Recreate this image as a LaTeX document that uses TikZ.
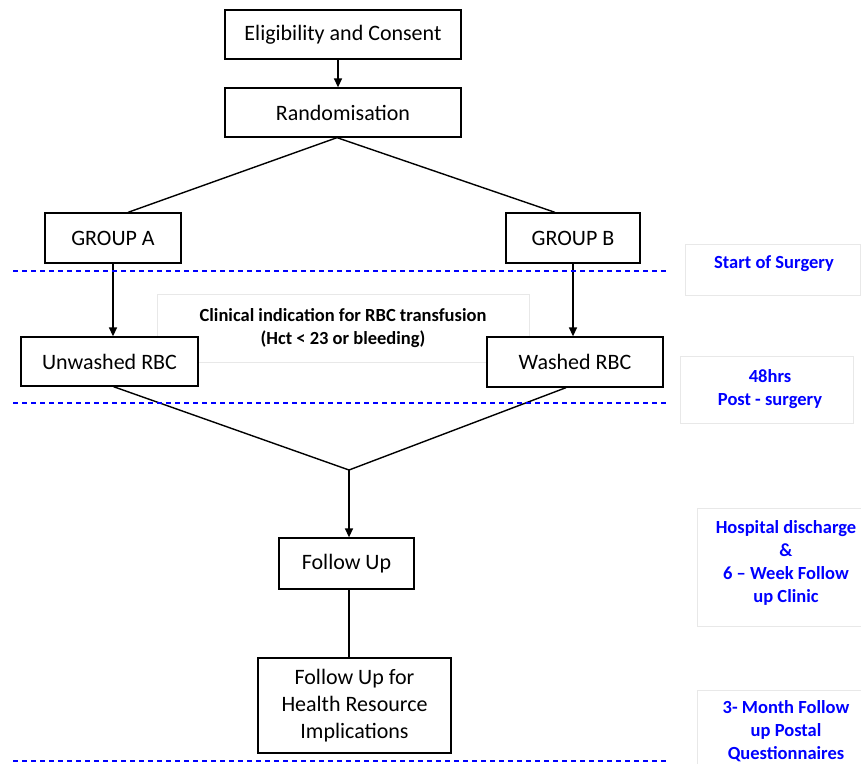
\documentclass[tikz,border=0pt]{standalone}
\usepackage{fontspec}
\setmainfont{Carlito}
\usetikzlibrary{arrows.meta, positioning}

\begin{document}
\begin{tikzpicture}[x=1pt, y=-1pt, >={Triangle[length=9pt,width=8pt]},
    flowbox/.style={draw, line width=1.3pt, fill=white, inner sep=0pt, align=center, font=\fontsize{22}{27}\selectfont},
    flow/.style={line width=1.4pt},
    phase/.style={blue, dash pattern=on 5pt off 4pt, line width=1.1pt},
    frame/.style={draw=black!9, line width=0.8pt},
    phaselabel/.style={blue, align=center, font=\bfseries\fontsize{18.5}{23}\selectfont}]
    \clip (0,0) rectangle (861,763);
    \node[frame, minimum width=372pt, minimum height=68pt, font=\bfseries\fontsize{18.5}{23}\selectfont, align=center] (clin) at (343,328) {Clinical indication for RBC transfusion\\(Hct < 23 or bleeding)};
    \node[flowbox, minimum width=236pt, minimum height=49pt] (elig) at (343,34.5) {Eligibility and Consent};
    \node[flowbox, minimum width=236pt, minimum height=49pt] (rand) at (343,112.5) {Randomisation};
    \node[flowbox, minimum width=136pt, minimum height=50pt] (grpA) at (113,238) {GROUP A};
    \node[flowbox, minimum width=134pt, minimum height=50pt] (grpB) at (573,238) {GROUP B};
    \node[flowbox, minimum width=177pt, minimum height=49pt] (unw) at (109.5,361.5) {Unwashed RBC};
    \node[flowbox, minimum width=176pt, minimum height=50pt] (wash) at (575,362) {Washed RBC};
    \node[flowbox, minimum width=135pt, minimum height=51pt] (fup) at (346.5,563.5) {Follow Up};
    \node[flowbox, minimum width=193pt, minimum height=95pt] (fuphealth) at (354.5,705.5) {Follow Up for\\Health Resource\\Implications};
    \coordinate (merge) at (349,470);
    \draw[flow, ->] ([xshift=-5pt]elig.south) -- ([xshift=-5pt]rand.north);
    \draw[flow] ([xshift=-6pt]rand.south) -- ([xshift=15pt]grpA.north);
    \draw[flow] ([xshift=-6pt]rand.south) -- ([xshift=-18pt]grpB.north);
    \draw[flow, ->] (grpA.south) -- (grpA.south |- unw.north);
    \draw[flow, ->] (grpB.south) -- (grpB.south |- wash.north);
    \draw[flow] ([xshift=4pt]unw.south) -- (merge);
    \draw[flow] ([xshift=-9pt]wash.south) -- (merge);
    \draw[flow, ->] (merge) -- (merge |- fup.north);
    \draw[flow] ([xshift=2.5pt]fup.south) -- ([xshift=2.5pt]fup.south |- fuphealth.north);
    \draw[phase] (13,271) -- (667,271);
    \draw[phase] (13,403) -- (667,403);
    \draw[phase] (13,761) -- (667,761);
    \draw[frame] (685,244) rectangle (860,295);
    \draw[frame] (680,356) rectangle (853,423);
    \draw[frame] (697,508) rectangle (861,626);
    \draw[frame] (697,690) rectangle (870,780);
    \node[phaselabel] (lbStart) at (774,264) {Start of Surgery};
    \node[phaselabel] (lbPost) at (770,389.5) {48hrs\\Post - surgery};
    \node[phaselabel] (lbDisch) at (786,562.5) {Hospital discharge\\\&\\6 -- Week Follow\\up Clinic};
    \node[phaselabel] (lbMonth) at (786,731) {3- Month Follow\\up Postal\\Questionnaires};
\end{tikzpicture}
\end{document}
